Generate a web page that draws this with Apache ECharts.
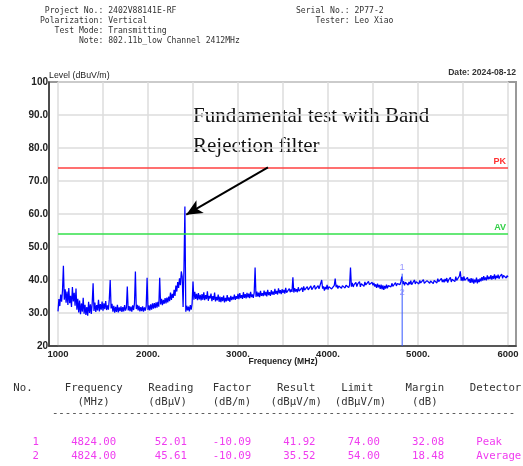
<!DOCTYPE html>
<html>
<head>
<meta charset="utf-8">
<script src="https://cdn.jsdelivr.net/npm/echarts@6/dist/echarts.min.js"></script>
<style>
  html, body { margin: 0; padding: 0; background: #fff; }
  #chart { width: 523px; height: 466px; }
</style>
</head>
<body>
<div id="chart"></div>
<script>
// trace sampled every 10 MHz from 1000 MHz (one row = 100 MHz)
const FREQ_START = 1000
const FREQ_STEP = 10
const TRACE = [
  30.5, 34.2, 32.1, 35.6, 33.4, 36.8, 44.3, 34.0, 37.2, 33.1,
  36.5, 32.4, 37.6, 33.0, 35.2, 31.8, 37.9, 33.5, 36.1, 32.2,
  37.4, 31.0, 34.3, 30.2, 33.8, 29.6, 32.9, 30.4, 34.6, 29.8,
  32.5, 29.4, 31.8, 29.2, 33.4, 30.0, 32.6, 29.7, 33.0, 39.0,
  30.6, 33.2, 30.3, 32.4, 30.8, 34.0, 30.5, 32.7, 31.0, 33.5,
  30.7, 32.9, 31.2, 33.6, 30.9, 32.3, 31.0, 34.2, 40.0, 31.4,
  32.8, 30.4, 32.2, 30.1, 31.9, 30.3, 32.5, 30.2, 31.7, 30.6,
  32.0, 30.3, 31.8, 30.5, 32.4, 30.7, 31.6, 38.0, 30.8, 32.1,
  30.6, 31.9, 30.4, 32.3, 30.9, 33.0, 42.6, 31.2, 32.5, 30.8,
  32.2, 30.5, 31.8, 30.6, 32.0, 30.4, 31.7, 30.7, 32.1, 40.7,
  30.9, 32.3, 30.8, 32.6, 31.0, 32.9, 31.3, 33.0, 31.5, 33.2,
  31.6, 33.4, 31.9, 40.7, 32.6, 34.3, 32.4, 34.0, 32.8, 34.5,
  32.9, 34.7, 33.2, 35.0, 33.6, 36.2, 34.0, 35.8, 34.6, 37.0,
  35.2, 38.3, 36.5, 39.4, 37.6, 40.5, 38.4, 42.6, 41.0, 31.8,
  44.0, 62.3, 30.4, 32.2, 30.8, 31.9, 30.5, 32.4, 31.0, 32.8,
  39.5, 34.0, 36.4, 34.3, 35.8, 33.9, 36.0, 34.1, 35.5, 33.8,
  35.7, 34.0, 36.3, 33.9, 35.4, 34.2, 36.6, 33.7, 35.2, 34.4,
  35.9, 33.6, 35.1, 34.0, 36.2, 33.5, 34.9, 33.8, 35.6, 33.4,
  35.0, 33.3, 34.8, 33.6, 35.3, 33.2, 34.6, 33.5, 35.4, 33.7,
  34.7, 33.4, 35.2, 33.9, 34.9, 34.1, 35.6, 34.0, 35.1, 34.3,
  35.8, 34.2, 36.0, 34.5, 35.4, 34.3, 36.3, 34.6, 35.7, 34.4,
  36.1, 34.7, 35.9, 34.5, 36.4, 34.8, 35.6, 34.6, 36.2, 43.8,
  34.9, 36.5, 35.0, 36.2, 34.8, 36.7, 35.2, 36.0, 35.1, 36.8,
  35.3, 36.4, 35.0, 37.0, 35.4, 36.3, 35.2, 36.9, 35.6, 36.5,
  35.5, 37.3, 35.8, 36.7, 35.6, 37.5, 36.0, 36.9, 35.7, 37.2,
  36.1, 37.0, 35.9, 37.6, 36.2, 36.8, 36.0, 37.4, 36.3, 37.1,
  36.4, 40.8, 36.2, 37.5, 36.5, 37.2, 36.3, 37.8, 36.6, 37.0,
  36.8, 37.7, 36.4, 38.1, 36.9, 37.4, 36.6, 38.0, 37.0, 37.3,
  36.7, 38.2, 37.1, 37.6, 36.8, 38.4, 37.2, 37.5, 36.9, 38.3,
  37.3, 37.8, 37.0, 40.0, 37.4, 38.1, 36.8, 37.9, 37.2, 38.5,
  37.1, 38.0, 37.5, 38.6, 37.3, 37.9, 37.6, 38.4, 40.4, 37.8,
  38.5, 37.4, 38.2, 37.7, 38.8, 37.5, 38.3, 37.9, 38.7, 37.6,
  38.4, 37.8, 38.9, 37.7, 38.5, 43.8, 38.0, 39.1, 37.9, 38.6,
  38.2, 39.3, 38.0, 38.8, 38.3, 39.5, 37.9, 38.9, 38.4, 39.2,
  38.1, 39.4, 38.5, 38.9, 38.2, 39.6, 38.6, 39.0, 38.3, 39.3,
  38.4, 39.1, 38.0, 38.7, 37.6, 38.9, 37.8, 38.5, 37.3, 38.6,
  37.2, 38.4, 37.0, 38.2, 37.4, 38.6, 37.5, 38.3, 37.7, 38.8,
  37.9, 39.0, 38.1, 38.7, 38.3, 39.2, 38.2, 38.9, 38.5, 39.4,
  38.6, 39.5, 41.0, 38.8, 39.6, 38.4, 39.3, 38.9, 39.7, 38.5,
  39.4, 38.7, 39.8, 38.6, 39.2, 38.9, 40.0, 38.8, 39.5, 39.0,
  39.7, 38.8, 39.9, 39.1, 39.4, 38.7, 40.1, 39.0, 39.6, 38.9,
  39.8, 39.2, 40.2, 39.0, 39.7, 39.3, 40.3, 38.9, 39.9, 39.4,
  40.0, 39.1, 40.4, 39.5, 39.8, 39.2, 40.5, 39.4, 40.1, 39.3,
  40.3, 39.6, 40.6, 39.2, 40.0, 39.7, 40.8, 39.4, 40.2, 39.8,
  40.7, 39.5, 41.0, 39.9, 40.4, 39.6, 41.2, 42.6, 39.8, 40.9,
  39.7, 41.1, 39.9, 40.5, 39.4, 40.8, 39.6, 40.3, 39.1, 40.6,
  39.2, 40.4, 38.9, 40.1, 39.3, 40.7, 39.0, 40.2, 39.4, 40.5,
  39.6, 40.9, 39.8, 41.2, 40.0, 40.8, 39.9, 41.4, 40.2, 41.0,
  40.3, 41.5, 40.1, 41.2, 40.4, 41.7, 40.2, 41.3, 40.6, 41.6,
  40.4, 41.1, 40.7, 41.8, 40.5, 41.4, 40.8, 41.6, 40.6, 41.3,
  40.9
]

const X_TICK_LABELS = { 1000: '1000', 2000: '2000.', 3000: '3000.', 4000: '4000.', 5000: '5000.', 6000: '6000' }
const Y_TICK_LABELS = { 20: '20', 30: '30.0', 40: '40.0', 50: '50.0', 60: '60.0', 70: '70.0', 80: '80.0', 90: '90.0', 100: '100' }

const LIMIT_PK = 74
const LIMIT_AV = 54

// marker table
const MARKER_NO = ['1', '2']
const MARKER_FREQ = ['4824.00', '4824.00']
const READING = ['52.01', '45.61']
const FACTOR = ['-10.09', '-10.09']
const RESULT = ['41.92', '35.52']
const LIMIT = ['74.00', '54.00']
const MARGIN = ['32.08', '18.48']
const DETECTOR = ['Peak', 'Average']

const TABLE_HEAD = ['No.', 'Frequency', 'Reading', 'Factor', 'Result', 'Limit', 'Margin', 'Detector']
const TABLE_UNITS = ['(MHz)', '(dBμV)', '(dB/m)', '(dBμV/m)', '(dBμV/m)', '(dB)']

const INFO_LEFT = [
  ' Project No.: 2402V88141E-RF',
  'Polarization: Vertical',
  '   Test Mode: Transmitting',
  '        Note: 802.11b_low Channel 2412MHz'
]
const INFO_RIGHT = ['Serial No.: 2P77-2', '    Tester: Leo Xiao']

const ARROW_FROM = [3333, 74.1]
const ARROW_TO = [2425, 59.8]

const traceData = TRACE.map((v, i) => [FREQ_START + i * FREQ_STEP, v])

// table layout (monospace columns)
const COL_W = 6.43
const COL_X0 = 13.3
const HEAD_COLS = [0, 8, 21, 31, 41, 51, 61, 71]
const UNIT_COLS = [10, 21, 31, 40, 50, 62]
const DATA_COLS = [3, 9, 22, 31, 42, 52, 62, 72]
const MONO = '"DejaVu Sans Mono", "Liberation Mono", monospace'

const graphics = []
const addText = (text, x, y, font, fill, align) => {
  graphics.push({
    type: 'text', x, y, silent: true,
    style: { text, font, fill, align: align || 'left', verticalAlign: 'middle' }
  })
}

INFO_LEFT.forEach((t, i) => addText(t, 40, 11 + i * 10, '8.1px ' + MONO, '#333'))
INFO_RIGHT.forEach((t, i) => addText(t, 296, 11 + i * 10, '8.1px ' + MONO, '#333'))

addText('Date: 2024-08-12', 516, 73, 'bold 8.6px "Liberation Sans", Arial, sans-serif', '#333', 'right')
addText('Level (dBuV/m)', 49, 76, '8.8px "Liberation Sans", Arial, sans-serif', '#222')
addText('Frequency (MHz)', 283, 362, 'bold 8.6px "Liberation Sans", Arial, sans-serif', '#222', 'center')

addText('Fundamental test with Band', 193, 116, '21px "Liberation Serif", "Times New Roman", serif', '#111')
addText('Rejection filter', 193, 146, '21px "Liberation Serif", "Times New Roman", serif', '#111')

const tableFont = '10.7px ' + MONO
TABLE_HEAD.forEach((t, i) => addText(t, COL_X0 + HEAD_COLS[i] * COL_W, 388, tableFont, '#333'))
TABLE_UNITS.forEach((t, i) => addText(t, COL_X0 + UNIT_COLS[i] * COL_W, 402, tableFont, '#333'))
addText('-'.repeat(72), COL_X0 + 6 * COL_W, 413, tableFont, '#444')
MARKER_NO.forEach((no, r) => {
  const row = [no, MARKER_FREQ[r], READING[r], FACTOR[r], RESULT[r], LIMIT[r], MARGIN[r], DETECTOR[r]]
  row.forEach((t, i) => addText(t, COL_X0 + DATA_COLS[i] * COL_W, 442 + r * 14, tableFont, '#f03cf0'))
})

const chart = echarts.init(document.getElementById('chart'))

const option = {
  animation: false,
  backgroundColor: '#fff',
  grid: [
    { left: 58, right: 15, top: 82, bottom: 120 },
    { left: 49, right: 7, top: 82, bottom: 120, show: true, borderColor: '#999', borderWidth: 2, backgroundColor: 'transparent' }
  ],
  xAxis: [
    {
      type: 'value', min: 1000, max: 6000, interval: 500,
      axisLine: { show: false }, axisTick: { show: false },
      axisLabel: {
        margin: 3, color: '#222', fontSize: 9.5, fontWeight: 'bold', fontFamily: 'Liberation Sans',
        formatter: (v) => X_TICK_LABELS[v] || ''
      },
      splitLine: { show: true, lineStyle: { color: '#dcdcdc', width: 1.5 } }
    },
    {
      gridIndex: 1, type: 'value', min: 0, max: 1,
      axisLine: { show: true, lineStyle: { color: '#333', width: 1.5 } },
      axisTick: { show: false }, axisLabel: { show: false }, splitLine: { show: false }
    }
  ],
  yAxis: [
    {
      type: 'value', min: 20, max: 100, interval: 10,
      axisLine: { show: false }, axisTick: { show: false },
      axisLabel: {
        margin: 10, color: '#222', fontSize: 10, fontWeight: 'bold', fontFamily: 'Liberation Sans',
        formatter: (v) => Y_TICK_LABELS[v] || ''
      },
      splitLine: { show: true, lineStyle: { color: '#dcdcdc', width: 1.5 } }
    },
    {
      gridIndex: 1, type: 'value', min: 0, max: 1,
      axisLine: { show: true, lineStyle: { color: '#333', width: 1.5 } },
      axisTick: { show: false }, axisLabel: { show: false }, splitLine: { show: false }
    }
  ],
  series: [
    {
      name: 'Trace',
      type: 'line',
      data: traceData,
      showSymbol: false,
      sampling: 'none',
      lineStyle: { color: '#0000ff', width: 1.25 },
      z: 3,
      markLine: {
        silent: true,
        symbol: ['none', 'none'],
        animation: false,
        data: [
          {
            yAxis: LIMIT_PK,
            lineStyle: { color: '#ff4040', width: 1.5, type: 'solid' },
            label: { show: true, formatter: 'PK', position: 'insideEndTop', distance: 2, color: '#ff3030', fontWeight: 'bold', fontSize: 9 }
          },
          {
            yAxis: LIMIT_AV,
            lineStyle: { color: '#33e04a', width: 1.5, type: 'solid' },
            label: { show: true, formatter: 'AV', position: 'insideEndTop', distance: 2, color: '#33d048', fontWeight: 'bold', fontSize: 9 }
          },
          [
            { coord: ARROW_FROM, symbol: 'none', lineStyle: { color: '#000', width: 2, type: 'solid' }, label: { show: false } },
            { coord: ARROW_TO, symbol: 'arrow', symbolSize: [11, 16], lineStyle: { color: '#000', width: 2, type: 'solid' }, label: { show: false } }
          ]
        ]
      }
    },
    {
      name: 'Marker line',
      type: 'line',
      data: [[Number(MARKER_FREQ[0]), Number(RESULT[0])], [Number(MARKER_FREQ[0]), 20]],
      showSymbol: false,
      lineStyle: { color: '#3355ff', width: 1 },
      z: 4
    },
    {
      name: 'Markers',
      type: 'scatter',
      symbolSize: 1,
      itemStyle: { color: 'rgba(0,0,0,0)' },
      z: 5,
      data: MARKER_NO.map((no, i) => ({
        value: [Number(MARKER_FREQ[i]), Number(RESULT[i])],
        label: {
          show: true, formatter: no,
          position: i === 0 ? 'top' : 'inside',
          distance: 1,
          offset: i === 0 ? [0, 0] : [0, -2],
          color: '#8080ff', fontSize: 9.5, fontFamily: 'Liberation Sans'
        }
      }))
    }
  ],
  graphic: graphics
}

chart.setOption(option)
</script>
</body>
</html>
